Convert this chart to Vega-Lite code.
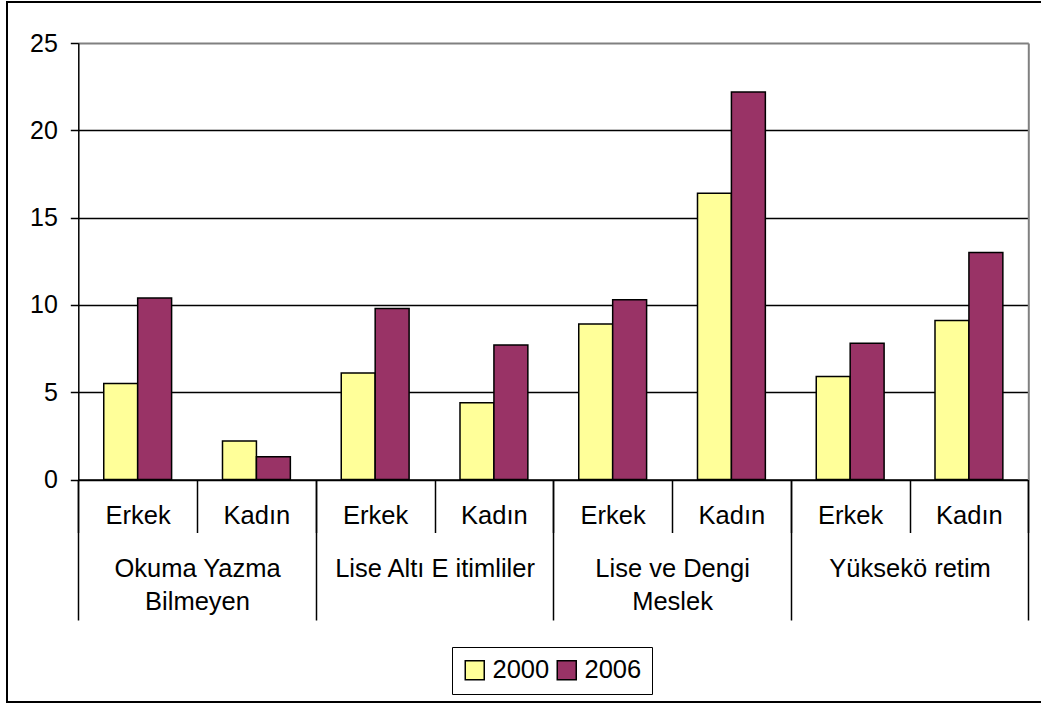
{
  "$schema": "https://vega.github.io/schema/vega-lite/v6.json",
  "width": 1046,
  "height": 700,
  "autosize": {"type": "none"},
  "padding": {"left": 7, "top": 2, "right": -12, "bottom": 2},
  "background": "white",
  "config": {
    "view": {"stroke": "black", "strokeWidth": 2},
    "font": "Liberation Sans",
    "axis": {"labelFont": "Liberation Sans", "labelFontSize": 25.5, "labelColor": "black"},
    "legend": {"labelFont": "Liberation Sans"}
  },
  "data": {
    "values": [
      {"group": "Okuma Yazma Bilmeyen", "sex": "Erkek", "cat": "Okuma Yazma Bilmeyen|Erkek", "year": "2000", "value": 5.5},
      {"group": "Okuma Yazma Bilmeyen", "sex": "Erkek", "cat": "Okuma Yazma Bilmeyen|Erkek", "year": "2006", "value": 10.4},
      {"group": "Okuma Yazma Bilmeyen", "sex": "Kadın", "cat": "Okuma Yazma Bilmeyen|Kadın", "year": "2000", "value": 2.2},
      {"group": "Okuma Yazma Bilmeyen", "sex": "Kadın", "cat": "Okuma Yazma Bilmeyen|Kadın", "year": "2006", "value": 1.3},
      {"group": "Lise Altı E itimliler", "sex": "Erkek", "cat": "Lise Altı E itimliler|Erkek", "year": "2000", "value": 6.1},
      {"group": "Lise Altı E itimliler", "sex": "Erkek", "cat": "Lise Altı E itimliler|Erkek", "year": "2006", "value": 9.8},
      {"group": "Lise Altı E itimliler", "sex": "Kadın", "cat": "Lise Altı E itimliler|Kadın", "year": "2000", "value": 4.4},
      {"group": "Lise Altı E itimliler", "sex": "Kadın", "cat": "Lise Altı E itimliler|Kadın", "year": "2006", "value": 7.7},
      {"group": "Lise ve Dengi Meslek", "sex": "Erkek", "cat": "Lise ve Dengi Meslek|Erkek", "year": "2000", "value": 8.9},
      {"group": "Lise ve Dengi Meslek", "sex": "Erkek", "cat": "Lise ve Dengi Meslek|Erkek", "year": "2006", "value": 10.3},
      {"group": "Lise ve Dengi Meslek", "sex": "Kadın", "cat": "Lise ve Dengi Meslek|Kadın", "year": "2000", "value": 16.4},
      {"group": "Lise ve Dengi Meslek", "sex": "Kadın", "cat": "Lise ve Dengi Meslek|Kadın", "year": "2006", "value": 22.2},
      {"group": "Yüksekö retim", "sex": "Erkek", "cat": "Yüksekö retim|Erkek", "year": "2000", "value": 5.9},
      {"group": "Yüksekö retim", "sex": "Erkek", "cat": "Yüksekö retim|Erkek", "year": "2006", "value": 7.8},
      {"group": "Yüksekö retim", "sex": "Kadın", "cat": "Yüksekö retim|Kadın", "year": "2000", "value": 9.1},
      {"group": "Yüksekö retim", "sex": "Kadın", "cat": "Yüksekö retim|Kadın", "year": "2006", "value": 13.0}
    ]
  },
  "layer": [
    {
      "mark": {"type": "bar", "stroke": "black", "strokeWidth": 1.5},
      "encoding": {
        "x": {
          "field": "cat", "type": "nominal", "sort": null,
          "scale": {"range": [71.3, 1021.3], "paddingInner": 0, "paddingOuter": 0},
          "axis": {
            "orient": "bottom", "offset": -222.5, "title": null,
            "domainColor": "black", "domainWidth": 1.5,
            "tickBand": "extent", "tickSize": 53, "tickColor": "black", "tickWidth": 1.5,
            "labelExpr": "split(datum.label, '|')[1]", "labelAngle": 0,
            "labelBaseline": "alphabetic", "labelPadding": -9.5,
            "labelLimit": 0, "labelOverlap": false, "grid": false
          }
        },
        "xOffset": {"field": "year", "type": "nominal", "scale": {"paddingInner": 0, "paddingOuter": 0.75}},
        "y": {
          "field": "value", "type": "quantitative",
          "scale": {"domain": [0, 25], "range": [477.5, 41], "nice": false},
          "axis": {
            "orient": "left", "offset": -71.3, "title": null,
            "values": [0, 5, 10, 15, 20, 25],
            "labelFontSize": 25,
            "domainColor": "black", "domainWidth": 1.5,
            "tickColor": "black", "tickSize": 8, "tickWidth": 1.5,
            "labelPadding": 13,
            "grid": true,
            "gridColor": {"condition": {"test": "datum.value === 25", "value": "#808080"}, "value": "black"},
            "gridWidth": {"condition": {"test": "datum.value === 25", "value": 2}, "value": 1.3}
          }
        },
        "color": {
          "field": "year", "type": "nominal",
          "scale": {"domain": ["2000", "2006"], "range": ["#FFFF99", "#993366"]},
          "legend": {
            "orient": "none", "legendX": 445, "legendY": 645,
            "direction": "horizontal", "title": null,
            "strokeColor": "black", "fillColor": "white", "padding": 10,
            "symbolType": "square", "symbolSize": 361,
            "symbolStrokeColor": "black", "symbolStrokeWidth": 1.5, "symbolOpacity": 1,
            "labelFontSize": 25.5, "labelColor": "black", "labelOffset": 5,
            "columnPadding": 4, "labelLimit": 0
          }
        }
      }
    },
    {
      "mark": {"type": "point", "opacity": 0},
      "encoding": {
        "x": {
          "field": "group", "type": "nominal", "sort": null,
          "scale": {"range": [71.3, 1021.3], "paddingInner": 0, "paddingOuter": 0},
          "axis": {
            "orient": "bottom", "offset": -222.5, "title": null,
            "domain": false,
            "tickBand": "extent", "tickSize": 140.5, "tickColor": "black", "tickWidth": 1.5,
            "labelExpr": "datum.label === 'Okuma Yazma Bilmeyen' ? ['Okuma Yazma', 'Bilmeyen'] : datum.label === 'Lise ve Dengi Meslek' ? ['Lise ve Dengi', 'Meslek'] : datum.label",
            "labelAngle": 0, "labelBaseline": "alphabetic", "labelPadding": -43.5,
            "labelLineHeight": 33, "labelLimit": 0, "labelOverlap": false, "grid": false
          }
        },
        "y": {
          "field": "value", "type": "quantitative",
          "axis": {
            "orient": "right", "offset": -24.7, "title": null,
            "domainColor": "#808080", "domainWidth": 2,
            "ticks": false, "labels": false, "grid": false
          }
        }
      }
    }
  ],
  "resolve": {
    "scale": {"x": "independent"},
    "axis": {"x": "independent", "y": "independent"}
  }
}
